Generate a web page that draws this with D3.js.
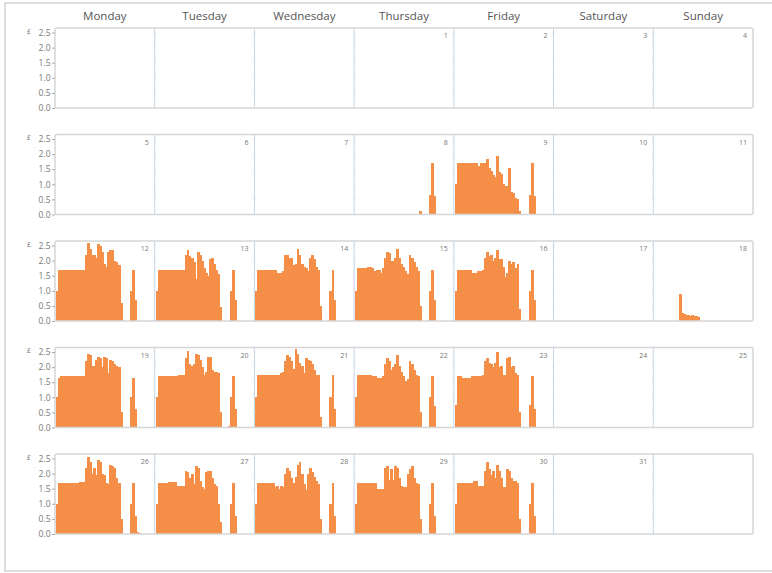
<!DOCTYPE html>
<html>
<head>
<meta charset="utf-8">
<script src="https://cdn.jsdelivr.net/npm/d3@7"></script>
<style>
  body { margin: 0; background: #fff; font-family: "Segoe UI", "Open Sans", sans-serif; }
</style>
</head>
<body>
<script>
// calendar layout of the month
const weekdays = ["Monday", "Tuesday", "Wednesday", "Thursday", "Friday", "Saturday", "Sunday"];
const firstWeekday = 3; // the 1st is a Thursday
const daysInMonth = 31;
const yTicks = [0, 0.5, 1.0, 1.5, 2.0, 2.5];

// half-hourly cost (£), 48 slots per day
const day08 = [0,0,0,0,0,0,0,0,0,0,0,0,0,0,0,0,
  0,0,0,0,0,0,0,0,0,0,0,0,0,0,0,0.12,
  0,0,0,0,0.65,1.7,0.6,0,0,0,0,0,0,0,0,0];
const day09 = [1.0,1.7,1.7,1.7,1.7,1.7,1.7,1.7,1.7,1.7,1.7,1.62,1.7,1.7,1.7,1.85,
  1.55,1.45,1.3,1.25,1.95,1.4,1.35,1.0,0.95,0.95,1.55,0.75,0.7,0.55,0.5,0.12,
  0,0,0,0,0.65,1.7,0.6,0,0,0,0,0,0,0,0,0];
const day12 = [1.0,1.7,1.7,1.7,1.7,1.7,1.7,1.7,1.7,1.7,1.7,1.7,1.7,1.7,2.2,2.6,
  2.4,2.2,2.2,2.1,2.55,2.5,2.3,1.9,1.8,2.3,2.35,2.35,2.0,1.95,1.85,0.6,
  0,0,0,0,1.0,1.7,0.7,0,0,0,0,0,0,0,0,0];
const day13 = [1.0,1.7,1.7,1.7,1.7,1.7,1.7,1.7,1.7,1.7,1.7,1.7,1.7,1.7,2.2,2.35,
  2.15,2.1,1.95,1.4,2.3,2.2,2.0,1.75,1.6,1.5,2.05,2.1,1.9,1.7,1.55,0.45,
  0,0,0,0,1.0,1.7,0.7,0,0,0,0,0,0,0,0,0];
const day14 = [1.0,1.7,1.7,1.7,1.7,1.7,1.7,1.7,1.7,1.7,1.6,1.6,1.6,1.65,2.2,2.2,
  2.1,2.1,1.85,1.9,2.4,2.2,1.9,1.8,1.75,1.65,2.1,2.2,2.05,1.8,1.7,0.5,
  0,0,0,0,1.0,1.7,0.7,0,0,0,0,0,0,0,0,0];
const day15 = [1.0,1.75,1.75,1.75,1.75,1.75,1.8,1.8,1.75,1.65,1.7,1.7,1.6,1.75,2.1,2.3,
  2.25,2.0,2.0,2.1,2.4,2.1,1.9,1.8,1.65,1.55,2.2,2.1,1.95,1.8,1.65,0.5,
  0,0,0,0,1.0,1.7,0.7,0,0,0,0,0,0,0,0,0];
const day16 = [1.0,1.7,1.7,1.7,1.7,1.7,1.7,1.7,1.6,1.6,1.6,1.65,1.65,1.7,2.1,2.3,
  2.15,2.2,2.0,2.1,2.35,2.05,2.05,1.8,1.45,1.6,2.0,1.9,1.95,1.75,1.9,0.4,
  0,0,0,0,1.0,1.7,0.7,0,0,0,0,0,0,0,0,0];
const day18 = [0,0,0,0,0,0,0,0,0,0,0,0,0.9,0.25,0.22,0.2,
  0.2,0.18,0.2,0.15,0.15,0.12,0,0,0,0,0,0,0,0,0,0,
  0,0,0,0,0,0,0,0,0,0,0,0,0,0,0,0];
const day19 = [1.0,1.65,1.7,1.7,1.7,1.7,1.7,1.7,1.7,1.7,1.7,1.7,1.7,1.7,2.2,2.45,
  2.4,2.05,2.05,2.25,2.35,2.3,2.0,2.35,2.3,1.8,2.25,2.2,2.1,2.05,2.0,0.5,
  0,0,0,0,1.0,1.65,0.6,0,0,0,0,0,0,0,0,0];
const day20 = [1.0,1.7,1.7,1.7,1.7,1.7,1.7,1.7,1.7,1.7,1.7,1.75,1.75,1.75,2.3,2.55,
  2.1,2.05,2.1,2.45,2.4,2.25,2.0,1.75,1.85,2.35,2.35,1.9,1.85,1.85,1.8,0.5,
  0,0,0,0.05,1.0,1.7,0.6,0,0,0,0,0,0,0,0,0];
const day21 = [1.0,1.75,1.75,1.75,1.75,1.75,1.75,1.75,1.75,1.75,1.75,1.75,1.8,1.85,2.2,2.4,
  2.35,2.2,1.95,2.6,2.45,2.15,2.05,1.8,2.3,2.25,2.2,2.1,1.9,1.75,1.75,0.35,
  0,0,0,0,1.0,1.75,0.6,0,0,0,0,0,0,0,0,0];
const day22 = [1.0,1.75,1.75,1.75,1.75,1.75,1.75,1.75,1.7,1.7,1.65,1.65,1.65,1.7,2.1,2.3,
  2.2,1.9,2.0,2.1,2.4,2.05,1.85,1.7,1.55,1.6,2.2,2.1,1.9,1.75,1.7,0.5,
  0,0,0,0,1.0,1.7,0.7,0,0,0,0,0,0,0,0,0];
const day23 = [0.75,1.7,1.7,1.65,1.65,1.65,1.65,1.65,1.7,1.7,1.7,1.7,1.7,1.75,2.2,2.3,
  2.15,2.1,2.0,2.15,2.5,2.0,2.05,1.75,1.75,2.3,2.35,2.0,2.05,1.8,1.75,0.5,
  0,0,0,0,0.75,1.7,0.6,0,0,0,0,0,0,0,0,0];
const day26 = [1.0,1.7,1.7,1.7,1.7,1.7,1.7,1.7,1.7,1.7,1.7,1.73,1.73,1.73,2.2,2.55,
  2.4,2.0,2.2,1.95,2.45,2.4,2.0,1.95,1.7,1.65,2.3,2.25,2.2,1.85,1.7,0.5,
  0,0,0,0,1.0,1.7,0.6,0.05,0.03,0,0,0,0,0,0,0];
const day27 = [1.0,1.7,1.7,1.7,1.7,1.7,1.72,1.72,1.72,1.72,1.58,1.58,1.58,1.58,2.1,2.05,
  1.85,2.0,1.65,2.25,2.2,1.75,1.55,1.5,2.05,2.1,2.1,1.85,1.65,1.6,1.0,0.4,
  0,0,0,0,1.0,1.7,0.6,0,0,0,0,0,0,0,0,0];
const day28 = [1.0,1.7,1.7,1.7,1.7,1.7,1.7,1.7,1.7,1.55,1.6,1.5,1.6,1.55,2.0,2.2,
  2.1,1.85,1.7,1.9,2.3,2.4,2.0,1.65,1.45,2.0,2.2,2.05,1.9,1.75,1.65,0.5,
  0,0,0,0,1.0,1.7,0.6,0,0,0,0,0,0,0,0,0];
const day29 = [1.0,1.7,1.7,1.7,1.7,1.7,1.7,1.7,1.7,1.7,1.5,1.5,1.5,1.5,2.2,2.25,
  1.8,2.15,1.8,2.25,2.2,1.85,1.6,1.55,1.55,2.0,2.15,2.25,1.85,1.7,1.65,0.5,
  0,0,0,0,1.0,1.7,0.6,0,0,0,0,0,0,0,0,0];
const day30 = [1.0,1.7,1.7,1.7,1.7,1.7,1.7,1.7,1.7,1.75,1.75,1.58,1.58,1.58,2.1,2.4,
  2.15,1.95,2.1,1.85,2.3,2.1,1.85,1.55,1.55,2.15,2.1,1.85,1.75,1.75,1.7,0.5,
  0,0,0,0,1.0,1.7,0.6,0,0,0,0,0,0,0,0,0];

const costByDay = new Map([
  [8, day08], [9, day09], [12, day12], [13, day13], [14, day14], [15, day15],
  [16, day16], [18, day18], [19, day19], [20, day20], [21, day21], [22, day22],
  [23, day23], [26, day26], [27, day27], [28, day28], [29, day29], [30, day30]
]);

// ------------------------ D3 ------------------------
const WIDTH = 772, HEIGHT = 573;
const ROW_TOP = 28, ROW_H = 80, ROW_STEP = 106.5;
const ORANGE = "#f58f47";

const svg = d3.select("body").append("svg")
  .attr("width", WIDTH)
  .attr("height", HEIGHT);

// window frame
svg.append("rect")
  .attr("x", 5).attr("y", 3)
  .attr("width", WIDTH + 10).attr("height", 568)
  .attr("fill", "none")
  .attr("stroke", "#d2d2d2")
  .attr("stroke-width", 1.5);

const col = d3.scaleBand().domain(d3.range(7)).range([55, 753]);
const slot = d3.scaleBand().domain(d3.range(48)).range([1, col.bandwidth()]);
const y = d3.scaleLinear().domain([0, 2.65]).range([ROW_H, 0]);

// weekday headers
svg.selectAll("text.weekday")
  .data(weekdays)
  .join("text")
  .attr("class", "weekday")
  .attr("x", (d, i) => col(i) + col.bandwidth() / 2)
  .attr("y", 20)
  .attr("text-anchor", "middle")
  .style("font-size", "11.5px")
  .style("fill", "#555")
  .text(d => d);

const weeks = Math.ceil((firstWeekday + daysInMonth) / 7);

for (let r = 0; r < weeks; r++) {
  const row = svg.append("g")
    .attr("transform", `translate(0, ${ROW_TOP + r * ROW_STEP})`);

  // bars first, frame and separators on top
  for (let c = 0; c < 7; c++) {
    const day = r * 7 + c - firstWeekday + 1;
    const values = costByDay.get(day);
    if (!values) continue;
    row.append("g")
      .attr("shape-rendering", "crispEdges")
      .selectAll("rect")
      .data(values.map((v, i) => ({ i, v })).filter(d => d.v > 0))
      .join("rect")
      .attr("x", d => col(c) + slot(d.i))
      .attr("y", d => y(d.v))
      .attr("width", slot.bandwidth() + 0.8)
      .attr("height", d => ROW_H - y(d.v))
      .attr("fill", ORANGE);
  }

  row.append("rect")
    .attr("x", 55).attr("y", 0)
    .attr("width", col.range()[1] - 55).attr("height", ROW_H)
    .attr("rx", 1.5)
    .attr("fill", "none")
    .attr("stroke", "#d6d6d6")
    .attr("stroke-width", 1.5);

  // column separators with faint tick marks
  for (let c = 1; c < 7; c++) {
    row.append("line")
      .attr("x1", col(c)).attr("x2", col(c))
      .attr("y1", 0).attr("y2", ROW_H)
      .attr("stroke", "#c4d6e8");
    row.selectAll(null)
      .data(yTicks.slice(1))
      .join("line")
      .attr("x1", col(c) - 1).attr("x2", col(c) + 1)
      .attr("y1", d => y(d)).attr("y2", d => y(d))
      .attr("stroke", "#d3dde8");
  }

  // y axis
  const yAxis = row.append("g")
    .attr("transform", "translate(55, 0)")
    .call(d3.axisLeft(y).tickValues(yTicks).tickFormat(d3.format(".1f")).tickSize(3).tickPadding(1.5));
  yAxis.select(".domain").remove();
  yAxis.selectAll(".tick line").attr("stroke", "#aaa");
  yAxis.selectAll(".tick text")
    .style("font-family", "'Segoe UI', 'Open Sans', sans-serif")
    .style("font-size", "8.5px")
    .style("fill", "#777");

  row.append("text")
    .attr("x", 27).attr("y", y(2.5) + 1)
    .style("font-size", "7px")
    .style("fill", "#777")
    .text("£");

  // day numbers
  for (let c = 0; c < 7; c++) {
    const day = r * 7 + c - firstWeekday + 1;
    if (day < 1 || day > daysInMonth) continue;
    row.append("text")
      .attr("x", col(c) + col.bandwidth() - 6)
      .attr("y", 10)
      .attr("text-anchor", "end")
      .style("font-size", "7px")
      .style("fill", "#777")
      .text(day);
  }
}
</script>
</body>
</html>
